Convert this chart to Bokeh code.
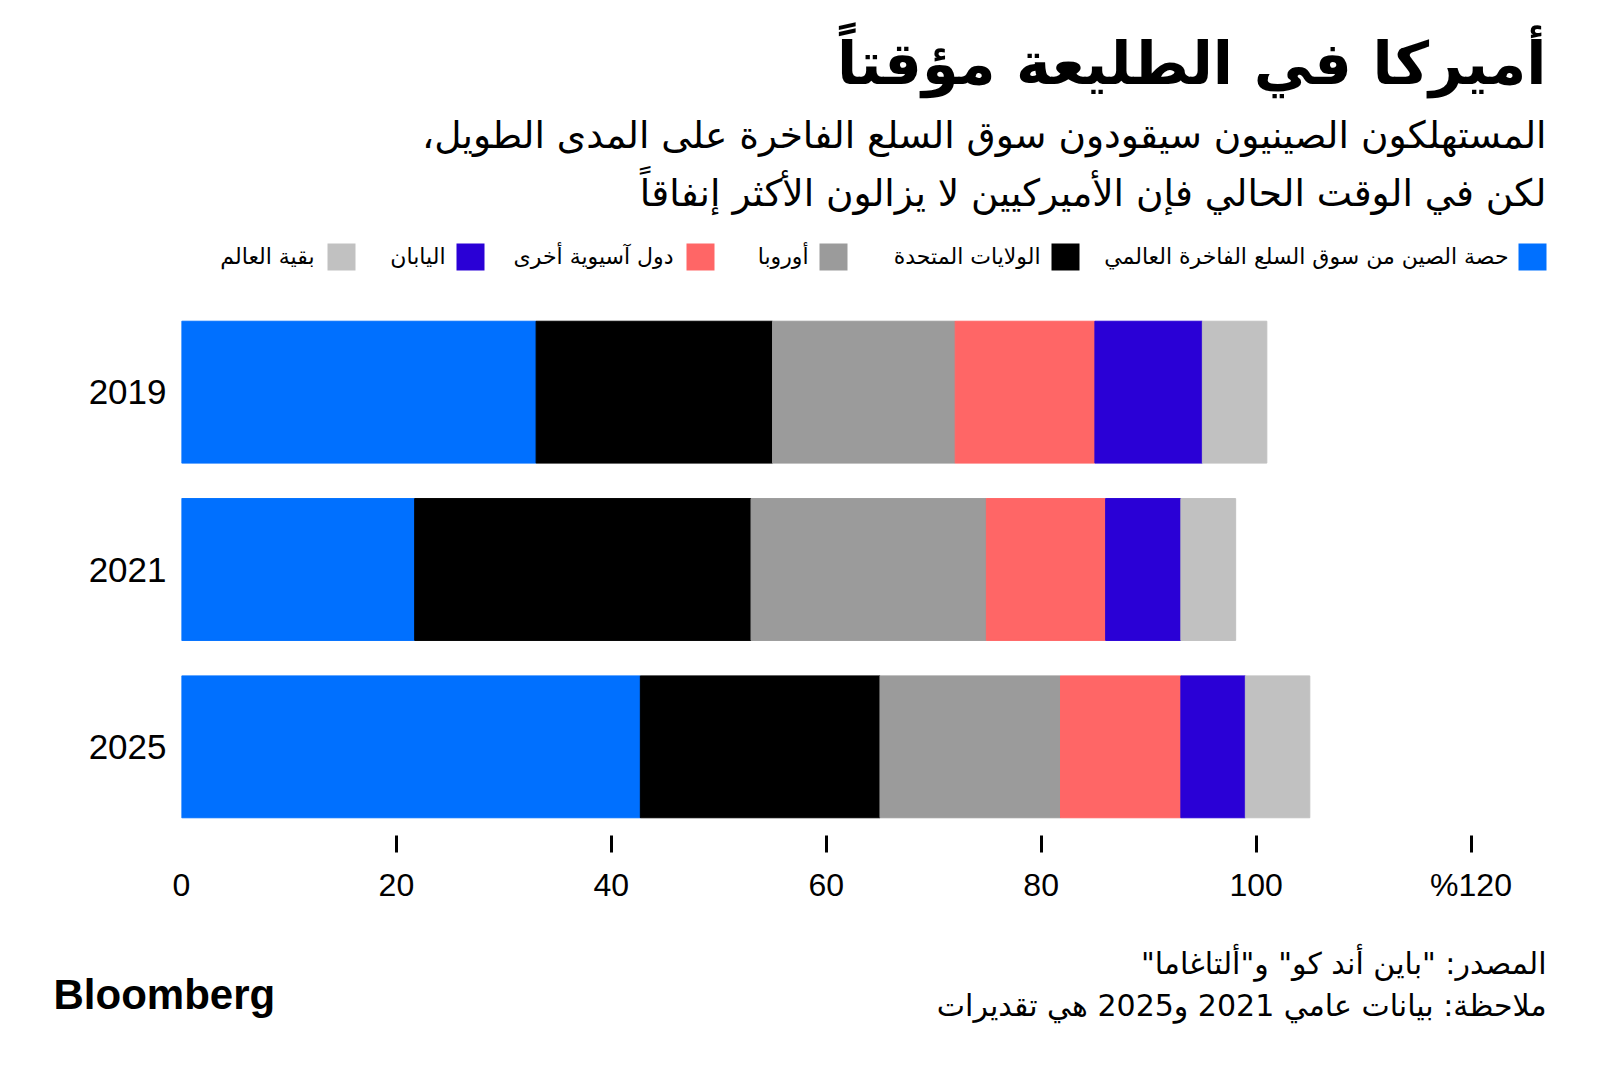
from bokeh.plotting import figure
from bokeh.layouts import column
from bokeh.models import ColumnDataSource, FactorRange, Range1d, Label, FixedTicker
from bokeh.embed import file_html
from bokeh.resources import INLINE

# ---------------- data ----------------
years = ["2019", "2021", "2025"]
china = [33, 21.7, 42.7]
usa = [22, 31.3, 22.3]
europe = [17, 21.9, 16.8]
other_asia = [13, 11.1, 11.2]
japan = [10, 7, 6]
rest = [6, 5.1, 6]

series_names = ["china", "usa", "europe", "other_asia", "japan", "rest"]
legend_labels = [
    "حصة الصين من سوق السلع الفاخرة العالمي",
    "الولايات المتحدة",
    "أوروبا",
    "دول آسيوية أخرى",
    "اليابان",
    "بقية العالم",
]
colors = ["#0070FF", "#000000", "#9B9B9B", "#FF6666", "#2A00D6", "#C1C1C1"]

x_ticks = [0, 20, 40, 60, 80, 100, 120]
x_tick_marks = [20, 40, 60, 80, 100, 120]
x_tick_labels = {120: "%120"}

title_text = "أميركا في الطليعة مؤقتاً"
subtitle_1 = "المستهلكون الصينيون سيقودون سوق السلع الفاخرة على المدى الطويل،\u200f"
subtitle_2 = "لكن في الوقت الحالي فإن الأميركيين لا يزالون الأكثر إنفاقاً"
source_text = "\u200fالمصدر: \"باين أند كو\" و\"ألتاغاما\"\u200f"
note_text = "\u200fملاحظة: بيانات عامي 2021 و2025 هي تقديرات\u200f"

W = 1584
AR_FONT = "DejaVu Sans"


def blank_fig(y0, y1):
    """A figure whose frame is the whole canvas; data coords == page px."""
    f = figure(width=W, height=y1 - y0, x_range=Range1d(0, W), y_range=Range1d(y1, y0),
               output_backend="svg", toolbar_location=None, title=None,
               x_axis_type=None, y_axis_type=None, frame_align=False,
               min_border=0, min_border_left=0, min_border_right=0,
               min_border_top=0, min_border_bottom=0)
    f.outline_line_color = None
    f.grid.visible = False
    return f


def add_text(f, text, x, y, size, align="right", bold=False, font=AR_FONT):
    f.add_layout(Label(x=x, y=y, text=text, text_font=font, text_font_size=size,
                       text_align=align, text_baseline="middle", text_color="black",
                       text_font_style="bold" if bold else "normal"))


# ---------------- header ----------------
TOP_H = 290
top = blank_fig(0, TOP_H)
add_text(top, title_text, 1546, 63, "59px", bold=True)
add_text(top, subtitle_1, 1546, 134, "37.5px")
add_text(top, subtitle_2, 1546, 192, "37.5px")

sw_left = [1518, 1051, 819, 686, 456, 327]
txt_right = [1508, 1040, 808, 673, 445, 314]
for lab, col, sl, tr in zip(legend_labels, colors, sw_left, txt_right):
    top.quad(left=sl, right=sl + 28, top=243, bottom=270, fill_color=col, line_color=None)
    add_text(top, lab, tr, 256, "22px")

# ---------------- main chart ----------------
MAIN_Y0, MAIN_Y1 = TOP_H, 920
FL, FR, FT, FB = 181, 1500, 303, 835    # frame edges in page px
SCALE = (1470.5 - FL) / 120.0
x_end = (FR - FL) / SCALE

source = ColumnDataSource(dict(year=years, china=china, usa=usa, europe=europe,
                               other_asia=other_asia, japan=japan, rest=rest))

p = figure(width=W, height=MAIN_Y1 - MAIN_Y0,
           y_range=FactorRange(factors=["2025", "2021", "2019"]),
           x_range=Range1d(0, x_end), output_backend="svg", toolbar_location=None,
           title=None, frame_align=False, min_border_left=FL, min_border_right=W - FR,
           min_border_top=FT - MAIN_Y0, min_border_bottom=MAIN_Y1 - FB)
p.outline_line_color = None
p.grid.visible = False

p.hbar_stack(series_names, y="year", height=0.8, color=colors, source=source)

xa = p.xaxis[0]
xa.ticker = FixedTicker(ticks=x_ticks, minor_ticks=x_tick_marks)
xa.major_label_overrides = x_tick_labels
xa.axis_line_color = None
xa.major_tick_line_color = None
xa.major_tick_out = 17
xa.major_tick_in = 0
xa.minor_tick_line_color = "black"
xa.minor_tick_line_width = 3
xa.minor_tick_out = 17
xa.minor_tick_in = 0
xa.major_label_standoff = 14
xa.major_label_text_font = "Liberation Sans"
xa.major_label_text_font_size = "32px"
xa.major_label_text_color = "black"

ya = p.yaxis[0]
ya.axis_line_color = None
ya.major_tick_line_color = None
ya.minor_tick_line_color = None
ya.major_tick_out = 0
ya.major_label_standoff = 15
ya.major_label_text_font = "Liberation Sans"
ya.major_label_text_font_size = "35px"
ya.major_label_text_color = "black"

# ---------------- footer ----------------
BOT_Y0, BOT_Y1 = MAIN_Y1, 1056
bot = blank_fig(BOT_Y0, BOT_Y1)
add_text(bot, source_text, 1546, 963, "30px")
add_text(bot, note_text, 1546, 1005, "30px")
add_text(bot, "Bloomberg", 53, 994, "42px", align="left", bold=True, font="Liberation Sans")

layout = column(top, p, bot, spacing=0)
open("out.html", "w").write(file_html(layout, INLINE))
